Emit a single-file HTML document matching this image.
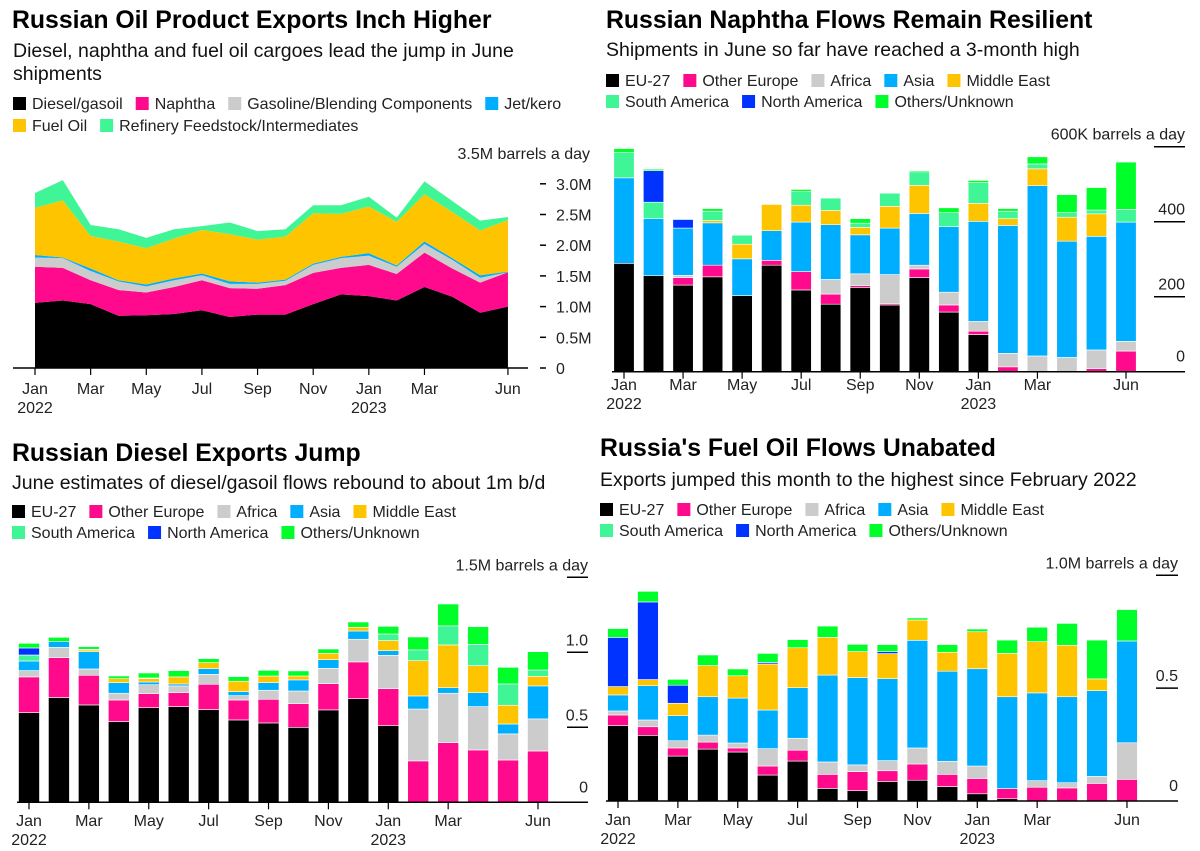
<!DOCTYPE html>
<html><head><meta charset="utf-8"><style>
body{margin:0;background:#fff;}
svg{display:block;font-family:"Liberation Sans",Arial,sans-serif;}
.t{font-size:24.8px;font-weight:bold;fill:#000}
.s{font-size:19.5px;fill:#111}
.l{font-size:16px;fill:#222}
.k{font-size:16px;fill:#222}
</style></head><body>
<svg id="root" width="1200" height="851" viewBox="0 0 1200 851">
<text class="t" x="12" y="28">Russian Oil Product Exports Inch Higher</text>
<text class="s" x="13" y="57">Diesel, naphtha and fuel oil cargoes lead the jump in June</text>
<text class="s" x="13" y="80">shipments</text>
<text class="t" x="606" y="28">Russian Naphtha Flows Remain Resilient</text>
<text class="s" x="606" y="56">Shipments in June so far have reached a 3-month high</text>
<text class="t" x="12" y="461">Russian Diesel Exports Jump</text>
<text class="s" x="12" y="489">June estimates of diesel/gasoil flows rebound to about 1m b/d</text>
<text class="t" x="600" y="456">Russia's Fuel Oil Flows Unabated</text>
<text class="s" x="600" y="486">Exports jumped this month to the highest since February 2022</text>
</svg>
<script>
// ---- data ----
const months = ["Jan","Feb","Mar","Apr","May","Jun","Jul","Aug","Sep","Oct","Nov","Dec","Jan","Feb","Mar","Apr","May","Jun"];
const monthLabels = ["Jan","","Mar","","May","","Jul","","Sep","","Nov","","Jan","","Mar","","","Jun"];
const yearLabels = ["2022","","","","","","","","","","","","2023","","","","",""];
const productNames = ["Diesel/gasoil","Naphtha","Gasoline/Blending Components","Jet/kero","Fuel Oil","Refinery Feedstock/Intermediates"];
const prodDiesel = [1.06,1.10,1.04,0.85,0.86,0.88,0.94,0.83,0.87,0.87,1.04,1.20,1.17,1.10,1.32,1.16,0.90,1.00];
const prodNaphtha = [0.59,0.53,0.39,0.42,0.37,0.44,0.49,0.47,0.42,0.48,0.51,0.43,0.51,0.43,0.56,0.46,0.49,0.56];
const prodGasoline = [0.15,0.16,0.15,0.14,0.10,0.11,0.08,0.07,0.08,0.07,0.13,0.16,0.15,0.12,0.14,0.14,0.08,0.00];
const prodJet = [0.04,0.01,0.04,0.02,0.03,0.03,0.03,0.04,0.02,0.02,0.02,0.02,0.04,0.02,0.04,0.03,0.04,0.01];
const prodFuel = [0.77,0.93,0.53,0.63,0.59,0.65,0.71,0.77,0.70,0.70,0.82,0.70,0.76,0.71,0.77,0.75,0.73,0.84];
const prodFeed = [0.24,0.33,0.18,0.20,0.17,0.15,0.06,0.19,0.14,0.12,0.13,0.14,0.16,0.07,0.21,0.18,0.16,0.05];
const prodTicks = [0,0.5,1.0,1.5,2.0,2.5,3.0];
const prodTickLabels = ["0","0.5M","1.0M","1.5M","2.0M","2.5M","3.0M"];

const destNames = ["EU-27","Other Europe","Africa","Asia","Middle East","South America","North America","Others/Unknown"];
// naphtha (K b/d) per destination
const napEU = [289,256,231,253,203,284,218,180,225,178,251,159,99,0,0,0,0,0];
const napOE = [0,0,20,31,0,13,49,27,5,4,23,19,9,13,0,0,8,55];
const napAF = [0,0,6,0,0,0,0,39,31,77,10,34,26,36,42,38,50,26];
const napAS = [228,152,126,113,98,79,132,146,104,124,138,175,267,341,454,310,303,318];
const napME = [0,0,0,6,39,70,45,38,20,58,75,0,48,18,45,64,60,0];
const napSA = [67,44,0,25,24,0,36,33,11,35,36,37,55,20,13,12,10,34];
const napNA = [0,84,23,0,0,0,0,0,0,0,0,0,0,0,0,0,0,0];
const napOT = [11,4,2,7,0,0,6,0,12,0,3,13,6,7,19,48,60,126];
const napTicks = [0,200,400,600];
const napTickLabels = ["0","200","400","600K barrels a day"];
// diesel (M b/d)
const dslEU = [.598,.698,.649,.538,.631,.638,.618,.549,.529,.500,.616,.691,.511,0,0,0,0,0];
const dslOE = [.238,.266,.198,.144,.093,.093,.169,.133,.158,.158,.175,.245,.247,.276,.398,.349,.282,.342];
const dslAF = [.042,.069,.042,.045,.060,.045,.066,.029,.060,.084,.102,.151,.222,.346,.329,.289,.174,.214];
const dslAS = [.064,.038,.115,.071,.018,.013,.038,.027,.051,.074,.058,.055,.031,.087,.037,.093,.066,.220];
const dslME = [0,0,.012,.026,.022,.047,.040,.069,.044,.026,.042,.025,.067,.235,.285,.180,.125,.064];
const dslSA = [.040,0,.004,0,.005,0,0,0,0,0,0,0,.044,.072,.127,.142,.142,.042];
const dslNA = [.047,0,0,0,0,0,0,0,0,0,0,0,0,0,0,0,0,0];
const dslOT = [.031,.029,.018,.018,.033,.042,.027,.031,.038,.034,.029,.035,.051,.086,.146,.118,.111,.122];
const dslTicks = [0,0.5,1.0,1.5];
const dslTickLabels = ["0","0.5","1.0","1.5M barrels a day"];
// fuel oil (M b/d)
const fuoEU = [.334,.291,.199,.230,.217,.115,.177,.056,.046,.087,.092,.064,.032,.010,0,0,0,0];
const fuoOE = [.047,.038,.036,.031,.018,.040,.048,.062,.084,.047,.072,.054,.068,.045,.061,.058,.078,.096];
const fuoAF = [.018,.030,.032,.031,.022,.077,.053,.055,.030,.045,.071,.058,.055,0,.029,.023,.031,.162];
const fuoAS = [.071,.152,.111,.170,.199,.171,.224,.385,.387,.363,.477,.399,.431,.407,.389,.381,.380,.451];
const fuoME = [.037,.027,.055,.138,.099,.204,.177,.167,.115,.111,.090,.084,.164,.192,.227,.228,.052,0];
const fuoSA = [0,0,0,0,0,0,0,0,0,0,0,0,0,0,0,0,0,0];
const fuoNA = [.218,.344,.080,0,0,.007,0,0,0,.009,0,0,0,0,0,0,0,0];
const fuoOT = [.039,.047,.026,.047,.030,.040,.036,.050,.032,.031,.009,.034,.012,.059,.064,.097,.172,.139];
const fuoTicks = [0,0.5,1.0];
const fuoTickLabels = ["0","0.5","1.0M barrels a day"];

const prodColors = ["#000000","#ff0a8c","#cccccc","#00aeff","#ffc400","#40f596"];
const destColors = ["#000000","#ff0a8c","#cccccc","#00aeff","#ffc400","#40f596","#0033ff","#00ff2a"];

const NS = "http://www.w3.org/2000/svg";
const root = document.getElementById("root");
function mk(tag, attrs, parent){ const e=document.createElementNS(NS,tag); for(const k in attrs) e.setAttribute(k,attrs[k]); (parent||root).appendChild(e); return e; }

function legend(names, colors, x0, rows, rowY, prefix){
  let idx=0;
  rows.forEach((cnt,r)=>{
    let x=x0;
    for(let i=0;i<cnt;i++,idx++){
      const g=mk("g",{});
      
      
      mk("rect",{x:x,y:rowY[r]-6,width:13,height:13,fill:colors[idx]},g);
      const t=mk("text",{x:x+19,y:rowY[r]+6,class:"l"},g);
      t.textContent=names[idx];
      x += 19 + t.getComputedTextLength() + 13;
    }
  });
}

function xAxis(x0, dx, base, axisX1, axisX2, labelY, prefix){
  const ax=mk("line",{x1:axisX1,x2:axisX2,y1:base,y2:base,stroke:"#000","stroke-width":1.5});
  
  
  months.forEach((m,i)=>{
    if(!monthLabels[i]) return;
    const x=x0+i*dx;
    mk("line",{x1:x,x2:x,y1:base,y2:base+7,stroke:"#000","stroke-width":1.2});
    const t=mk("text",{x:x,y:labelY,"text-anchor":"middle",class:"k"});
    
    
    t.textContent=monthLabels[i];
    if(yearLabels[i]){
      const y=mk("text",{x:x,y:labelY+19,"text-anchor":"middle",class:"k"});
      
      
      y.textContent=yearLabels[i];
    }
  });
}

// ---- Panel 1: stacked area ----
(function(){
  const x0=35, dx=27.82, base=368, pxPerUnit=61.4;
  const X=i=>x0+i*dx, Y=v=>base-v*pxPerUnit;
  legend(productNames, prodColors, 13, [4,2], [103,125], "products");
  const series=[prodDiesel,prodNaphtha,prodGasoline,prodJet,prodFuel,prodFeed];
  const cum=months.map(()=>0);
  series.forEach((s,si)=>{
    const lower=cum.slice();
    s.forEach((v,i)=>cum[i]+=v);
    let d="M"+months.map((m,i)=>X(i)+","+Y(cum[i])).join(" L");
    for(let i=months.length-1;i>=0;i--) d+=" L"+X(i)+","+Y(lower[i]);
    const p=mk("path",{d:d+"Z",fill:prodColors[si]});
    
    
  });
  xAxis(x0,dx,base,13,528,394,"products");
  prodTicks.forEach((v,i)=>{
    const y=Y(v);
    mk("line",{x1:540,x2:546,y1:y,y2:y,stroke:"#000","stroke-width":1.5});
    const t=mk("text",{x:556,y:y+6,class:"k"});
    
    
    t.textContent=prodTickLabels[i];
  });
  const u=mk("text",{x:590,y:159,"text-anchor":"end",class:"k"});
  
  
  u.textContent="3.5M barrels a day";
})();

// ---- Bar panels ----
function barPanel(cfg){
  const {series,x0,dx,bw,base,ppu,ticks,tickLabels,tickX1,tickX2,axisX1,axisX2,labelY,prefix,legX,legY}=cfg;
  legend(destNames, destColors, legX, [5,3], legY, prefix);
  const X=i=>x0+i*dx, Y=v=>base-v*ppu;
  const cum=months.map(()=>0);
  series.forEach((s,si)=>{
    s.forEach((v,i)=>{
      if(v<=0) return;
      const y1=Y(cum[i]), y2=Y(cum[i]+v);
      cum[i]+=v;
      const r=mk("rect",{x:X(i)-bw/2,y:y2,width:bw,height:y1-y2,fill:destColors[si],stroke:"#fff","stroke-width":0.6});
      
      
    });
  });
  xAxis(x0,dx,base,axisX1,axisX2,labelY,prefix);
  ticks.forEach((v,i)=>{
    const y=Y(v);
    if(v!==0) mk("line",{x1:tickX1,x2:tickX2,y1:y,y2:y,stroke:"#000","stroke-width":1.5});
    const t=mk("text",{x:tickX2,y:(v===0?y-10:y-7),"text-anchor":"end",class:"k"});
    
    
    t.textContent=tickLabels[i];
  });
}
barPanel({series:[napEU,napOE,napAF,napAS,napME,napSA,napNA,napOT],x0:624,dx:29.53,bw:20.4,base:371.7,ppu:0.375,
  ticks:napTicks,tickLabels:napTickLabels,tickX1:1154,tickX2:1185,axisX1:612,axisX2:1185,labelY:390,prefix:"naphtha",legX:606,legY:[80,101]});
barPanel({series:[dslEU,dslOE,dslAF,dslAS,dslME,dslSA,dslNA,dslOT],x0:29,dx:29.94,bw:21,base:802.3,ppu:150,
  ticks:dslTicks,tickLabels:dslTickLabels,tickX1:567,tickX2:588,axisX1:17,axisX2:588,labelY:826,prefix:"diesel",legX:12,legY:[511,532]});
barPanel({series:[fuoEU,fuoOE,fuoAF,fuoAS,fuoME,fuoSA,fuoNA,fuoOT],x0:618,dx:29.94,bw:20.8,base:801,ppu:225.7,
  ticks:fuoTicks,tickLabels:fuoTickLabels,tickX1:1156,tickX2:1178,axisX1:606,axisX2:1178,labelY:825,prefix:"fuel-oil",legX:600,legY:[509,530]});
</script>
</body></html>
